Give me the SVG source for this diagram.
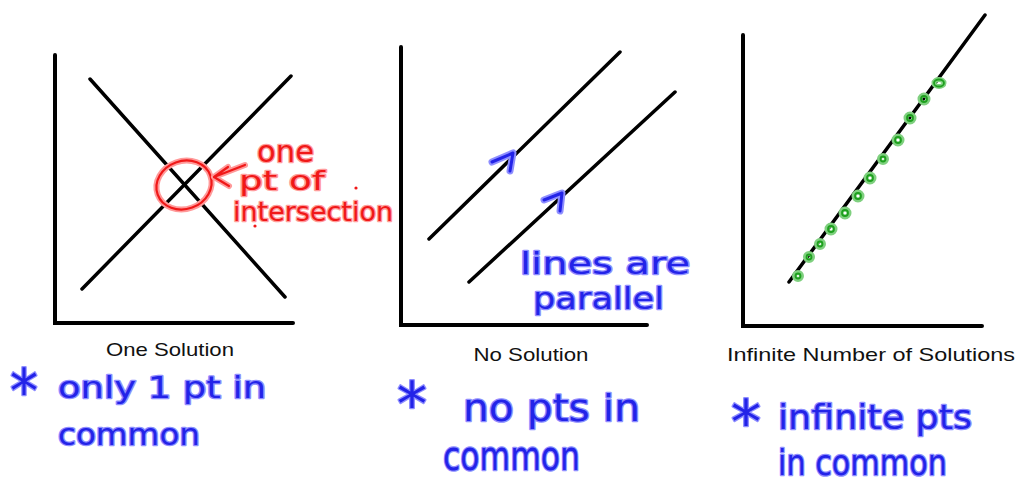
<svg xmlns="http://www.w3.org/2000/svg" width="1018" height="481" viewBox="0 0 1018 481">
<style>
.ax{stroke:#000;stroke-width:4;fill:none;stroke-linecap:round}
.ln{stroke:#000;stroke-width:3.5;fill:none;stroke-linecap:round}
.cap{font-family:"Liberation Sans",Arial,sans-serif;font-size:19px;fill:#111}
.hb{font-family:"DejaVu Sans","Liberation Sans",sans-serif;fill:#2323e8;stroke:#8e8eff;stroke-width:2.6;paint-order:stroke;stroke-linejoin:round}
.hr{font-family:"DejaVu Sans","Liberation Sans",sans-serif;fill:#f01818;stroke:#ff9c9c;stroke-width:2.6;paint-order:stroke;stroke-linejoin:round}
.rh{stroke:#ff9a9a;stroke-width:6;fill:none;stroke-linecap:round;stroke-linejoin:round}
.rc{stroke:#f01818;stroke-width:2.2;fill:none;stroke-linecap:round;stroke-linejoin:round}
.bh{stroke:#8e8eff;stroke-width:7;fill:none;stroke-linecap:round;stroke-linejoin:round}
.bc{stroke:#2323e8;stroke-width:3;fill:none;stroke-linecap:round;stroke-linejoin:round}
.gh{stroke:#7fd07f;stroke-width:5;fill:none}
.gc{stroke:#1ea01e;stroke-width:1.8;fill:none}
</style>

<g id="panel-one-solution">
  <path class="ax" d="M55,55 V323 H293"/>
  <line class="ln" x1="90" y1="79" x2="285" y2="297"/>
  <line class="ln" x1="82" y1="289" x2="291" y2="76"/>
  <ellipse class="rh" cx="184" cy="185" rx="28" ry="24" transform="rotate(-20 184 185)"/>
  <ellipse class="rc" cx="184" cy="185" rx="28" ry="24" transform="rotate(-20 184 185)"/>
  <text class="hr" x="257" y="162" font-size="30" textLength="57" lengthAdjust="spacingAndGlyphs">one</text>
  <text class="hr" x="239" y="190" font-size="27" textLength="86" lengthAdjust="spacingAndGlyphs">pt of</text>
  <text class="hr" x="233" y="221" font-size="26" textLength="160" lengthAdjust="spacingAndGlyphs">intersection</text>
  <circle cx="356" cy="188" r="1.6" fill="#f01818"/>
  <circle cx="255" cy="226" r="1.6" fill="#f01818"/>
  <text class="cap" x="170" y="356" text-anchor="middle" textLength="128" lengthAdjust="spacingAndGlyphs">One Solution</text>
  <text class="hb" x="10" y="412" font-size="60" textLength="28" lengthAdjust="spacingAndGlyphs">*</text>
  <text class="hb" x="58" y="398" font-size="30" textLength="208" lengthAdjust="spacingAndGlyphs">only 1 pt in</text>
  <text class="hb" x="58" y="445" font-size="31" textLength="142" lengthAdjust="spacingAndGlyphs">common</text>
</g>

<g id="panel-no-solution">
  <path class="ax" d="M401,47 V325 H647"/>
  <line class="ln" x1="429" y1="239" x2="620" y2="52"/>
  <line class="ln" x1="469" y1="282" x2="675" y2="92"/>
  <path class="bh" d="M492,162 L513,153 L510,171"/>
  <path class="bc" d="M492,162 L513,153 L510,171"/>
  <path class="bh" d="M544,200 L562,193 L560,211"/>
  <path class="bc" d="M544,200 L562,193 L560,211"/>
  <text class="hb" x="520" y="274" font-size="31" textLength="170" lengthAdjust="spacingAndGlyphs">lines are</text>
  <text class="hb" x="533" y="309" font-size="31" textLength="131" lengthAdjust="spacingAndGlyphs">parallel</text>
  <text class="cap" x="531" y="361" text-anchor="middle" textLength="115" lengthAdjust="spacingAndGlyphs">No Solution</text>
  <text class="hb" x="397" y="425" font-size="60" textLength="30" lengthAdjust="spacingAndGlyphs">*</text>
  <text class="hb" x="463" y="421" font-size="38" textLength="177" lengthAdjust="spacingAndGlyphs">no pts in</text>
  <text class="hb" x="443" y="470" font-size="40" textLength="137" lengthAdjust="spacingAndGlyphs">common</text>
</g>

<g id="panel-infinite-solutions">
  <path class="ax" d="M743,35 V326 H982"/>
  <line class="ln" x1="789" y1="282" x2="985" y2="15"/>
  <g id="green-points">
    <g class="gh">
      <ellipse cx="939" cy="83" rx="5" ry="3.5"/>
      <circle cx="924" cy="99" r="4"/>
      <circle cx="910" cy="118" r="4"/>
      <circle cx="898" cy="140" r="4"/>
      <circle cx="883" cy="159" r="3.5"/>
      <circle cx="870" cy="178" r="4"/>
      <circle cx="858" cy="196" r="4"/>
      <circle cx="845" cy="213" r="4"/>
      <circle cx="831" cy="229" r="4"/>
      <circle cx="820" cy="244" r="3.5"/>
      <circle cx="809" cy="257" r="3.5"/>
      <circle cx="798" cy="276" r="3.5"/>
    </g>
    <g class="gc">
      <ellipse cx="939" cy="83" rx="5" ry="3.5"/>
      <circle cx="924" cy="99" r="3"/>
      <circle cx="910" cy="118" r="3"/>
      <circle cx="898" cy="140" r="3"/>
      <circle cx="883" cy="159" r="2.5"/>
      <circle cx="870" cy="178" r="3"/>
      <circle cx="858" cy="196" r="3"/>
      <circle cx="845" cy="213" r="3"/>
      <circle cx="831" cy="229" r="3"/>
      <circle cx="820" cy="244" r="2.5"/>
      <circle cx="809" cy="257" r="2.5"/>
      <circle cx="798" cy="276" r="2.5"/>
    </g>
  </g>
  <text class="cap" x="727" y="361" textLength="288" lengthAdjust="spacingAndGlyphs">Infinite Number of Solutions</text>
  <text class="hb" x="731" y="443" font-size="60" textLength="30" lengthAdjust="spacingAndGlyphs">*</text>
  <text class="hb" x="778" y="429" font-size="34" textLength="194" lengthAdjust="spacingAndGlyphs">infinite pts</text>
  <text class="hb" x="778" y="475" font-size="36" textLength="169" lengthAdjust="spacingAndGlyphs">in common</text>
</g>

<g id="connectors">
  <path class="rh" d="M245,165 L214,177 L229,186 M214,177 L228,167"/>
  <path class="rc" d="M245,165 L214,177 L229,186 M214,177 L228,167"/>
</g>
</svg>
